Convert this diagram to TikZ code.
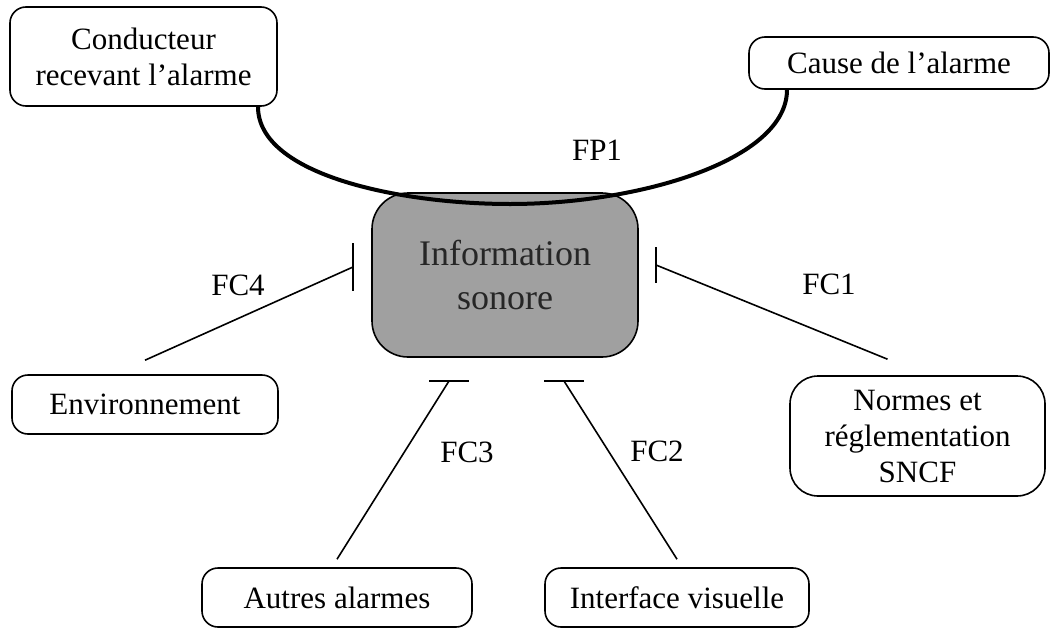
\documentclass[tikz,border=0pt]{standalone}
\usepackage{fontspec}
\setmainfont{Liberation Serif}
\definecolor{infogray}{RGB}{160,160,160}
\tikzset{
  box/.style={draw, line width=1.6pt, rounded corners=16pt, align=center, inner sep=0pt,
              font=\fontsize{31}{36}\selectfont},
  lbl/.style={font=\fontsize{31}{36}\selectfont, inner sep=0pt},
  conn/.style={line width=1.6pt},
  barline/.style={line width=2.2pt},
  fpline/.style={line width=4pt},
}
\begin{document}
\begin{tikzpicture}[x=1pt, y=-1pt]
  \useasboundingbox (0,0) rectangle (1051,629);

  % central node
  \node[draw, line width=1.6pt, rounded corners=36pt, fill=infogray,
        minimum width=266pt, minimum height=164pt, align=center, inner sep=0pt,
        font=\fontsize{36}{44}\selectfont, text=black!85] (info) at (505,275) {Information\\sonore};

  % surrounding nodes
  \node[box, minimum width=267pt, minimum height=99pt] (cond) at (143.5,56.5) {Conducteur\\recevant l’alarme};
  \node[box, minimum width=300pt, minimum height=52pt] (cause) at (899,63) {Cause de l’alarme};
  \node[box, minimum width=266pt, minimum height=59pt] (env) at (145,404.5) {Environnement};
  \node[box, rounded corners=28pt, minimum width=255pt, minimum height=120pt] (norm) at (917.5,436) {Normes et\\réglementation\\SNCF};
  \node[box, minimum width=270pt, minimum height=59pt] (autres) at (337,597.5) {Autres alarmes};
  \node[box, minimum width=264pt, minimum height=59pt] (iface) at (677,597.5) {Interface visuelle};

  % FP1 curve
  \coordinate (fpL) at ([xshift=114.5pt]cond.south);
  \coordinate (fpR) at ([xshift=-112pt]cause.south);
  \draw[fpline] (fpL) .. controls (258,175) and (400,204) .. (510,204)
                      .. controls (640,204) and (787,160) .. (fpR);
  \node[lbl] (fp1) at (597,150) {FP1};

  % FC4
  \coordinate (b4) at (353,267);
  \draw[conn] ([yshift=14pt]env.north) -- (b4);
  \draw[barline] ([yshift=24pt]b4) -- ([yshift=-24pt]b4);
  \node[lbl] (fc4) at (238,285) {FC4};

  % FC1
  \coordinate (b1) at (656,265);
  \draw[conn] ([xshift=-30pt,yshift=16pt]norm.north) -- (b1);
  \draw[barline] ([yshift=18pt]b1) -- ([yshift=-18pt]b1);
  \node[lbl] (fc1) at (829,284) {FC1};

  % FC3
  \coordinate (b3) at (449,381);
  \draw[conn] ([yshift=8pt]autres.north) -- (b3);
  \draw[barline] ([xshift=-20pt]b3) -- ([xshift=20pt]b3);
  \node[lbl] (fc3) at (467,452) {FC3};

  % FC2
  \coordinate (b2) at (564,381);
  \draw[conn] ([yshift=8pt]iface.north) -- (b2);
  \draw[barline] ([xshift=-20pt]b2) -- ([xshift=20pt]b2);
  \node[lbl] (fc2) at (657,451) {FC2};
\end{tikzpicture}
\end{document}
